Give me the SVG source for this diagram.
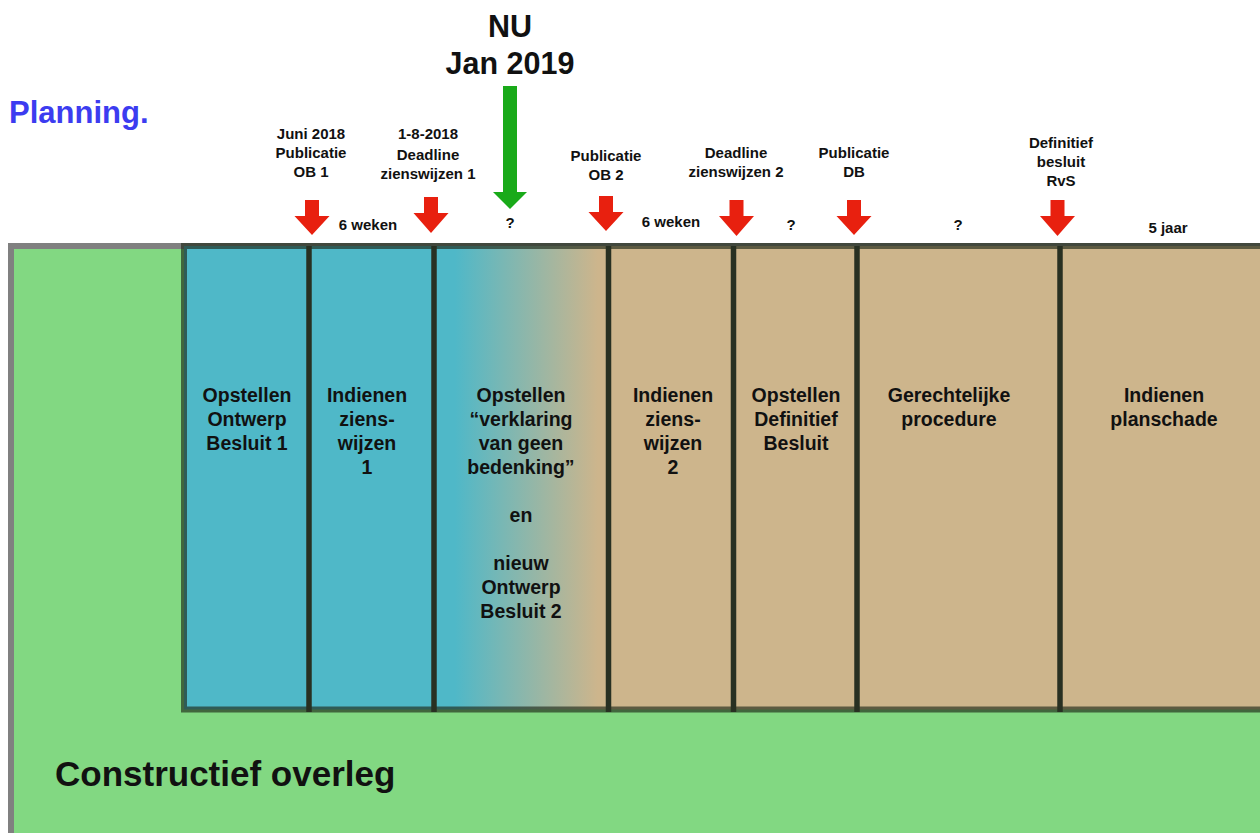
<svg xmlns="http://www.w3.org/2000/svg" width="1260" height="833" viewBox="0 0 1260 833">
<style>
  text { font-family: "Liberation Sans", Arial, Helvetica, sans-serif; font-weight: bold; fill: #111; text-anchor: middle; }
  .panel-t { font-size: 19.5px; }
  .lbl { font-size: 15px; }
  .big { font-size: 30.5px; }
  .cyan { fill: #4FB8C8; }
  .tan { fill: #CDB58C; }
  .div { stroke: #283022; stroke-width: 5.5; }
  .red { fill: #E8200F; }
</style>
<defs>
  <linearGradient id="fade" gradientUnits="userSpaceOnUse" x1="455" y1="0" x2="598" y2="0">
    <stop offset="0" stop-color="#4FB8C8"/>
    <stop offset="1" stop-color="#CDB58C"/>
  </linearGradient>
</defs>
<rect width="1260" height="833" fill="#ffffff"/>

<g id="overleg">
  <rect x="11" y="246" width="1300" height="700" fill="#82D882" stroke="#808080" stroke-width="6"/>
  <text x="55" y="786" style="font-size:35px;text-anchor:start">Constructief overleg</text>
</g>

<g id="title">
  <text x="9" y="123" style="font-size:31px;text-anchor:start;fill:#3C3CF0">Planning.</text>
</g>

<g id="p1">
  <rect class="cyan" x="184" y="246" width="125" height="463.5"/>
  <text class="panel-t" x="247" y="402">Opstellen<tspan x="247" dy="24">Ontwerp</tspan><tspan x="247" dy="24">Besluit 1</tspan></text>
</g>
<g id="p2">
  <rect class="cyan" x="309" y="246" width="125" height="463.5"/>
  <text class="panel-t" x="367" y="402">Indienen<tspan x="367" dy="24">ziens-</tspan><tspan x="367" dy="24">wijzen</tspan><tspan x="367" dy="24">1</tspan></text>
</g>
<g id="p3">
  <rect x="434" y="246" width="174.5" height="463.5" fill="url(#fade)"/>
  <text class="panel-t" x="521" y="402">Opstellen<tspan x="521" dy="24">“verklaring</tspan><tspan x="521" dy="24">van geen</tspan><tspan x="521" dy="24">bedenking”</tspan><tspan x="521" dy="48">en</tspan><tspan x="521" dy="48">nieuw</tspan><tspan x="521" dy="24">Ontwerp</tspan><tspan x="521" dy="24">Besluit 2</tspan></text>
</g>
<g id="p4">
  <rect class="tan" x="608.5" y="246" width="125" height="463.5"/>
  <text class="panel-t" x="673" y="402">Indienen<tspan x="673" dy="24">ziens-</tspan><tspan x="673" dy="24">wijzen</tspan><tspan x="673" dy="24">2</tspan></text>
</g>
<g id="p5">
  <rect class="tan" x="733.5" y="246" width="123.5" height="463.5"/>
  <text class="panel-t" x="796" y="402">Opstellen<tspan x="796" dy="24">Definitief</tspan><tspan x="796" dy="24">Besluit</tspan></text>
</g>
<g id="p6">
  <rect class="tan" x="857" y="246" width="203" height="463.5"/>
  <text class="panel-t" x="949" y="402">Gerechtelijke<tspan x="949" dy="24">procedure</tspan></text>
</g>
<g id="p7">
  <rect class="tan" x="1060" y="246" width="240" height="463.5"/>
  <text class="panel-t" x="1164" y="402">Indienen<tspan x="1164" dy="24">planschade</tspan></text>
</g>

<g id="frame">
  <rect x="184" y="246" width="1120" height="463.5" fill="none" stroke="#1e2a18" stroke-opacity="0.65" stroke-width="6"/>
  <line class="div" x1="309" y1="246" x2="309" y2="712"/>
  <line class="div" x1="434" y1="246" x2="434" y2="712"/>
  <line class="div" x1="608.5" y1="246" x2="608.5" y2="712"/>
  <line class="div" x1="733.5" y1="246" x2="733.5" y2="712"/>
  <line class="div" x1="857" y1="246" x2="857" y2="712"/>
  <line class="div" x1="1060" y1="246" x2="1060" y2="712"/>
</g>

<g id="nu">
  <text class="big" x="510" y="37">NU</text>
  <text class="big" x="510" y="74">Jan 2019</text>
</g>

<g id="m1"><text class="lbl" x="311" y="139">Juni 2018<tspan x="311" dy="19">Publicatie</tspan><tspan x="311" dy="19">OB 1</tspan></text></g>
<g id="m2"><text class="lbl" x="428" y="139">1-8-2018<tspan x="428" dy="21">Deadline</tspan><tspan x="428" dy="19">zienswijzen 1</tspan></text></g>
<g id="m3"><text class="lbl" x="606" y="161">Publicatie<tspan x="606" dy="19">OB 2</tspan></text></g>
<g id="m4"><text class="lbl" x="736" y="158">Deadline<tspan x="736" dy="19">zienswijzen 2</tspan></text></g>
<g id="m5"><text class="lbl" x="854" y="158">Publicatie<tspan x="854" dy="19">DB</tspan></text></g>
<g id="m6"><text class="lbl" x="1061" y="148">Definitief<tspan x="1061" dy="19">besluit</tspan><tspan x="1061" dy="19">RvS</tspan></text></g>

<g id="durations">
  <text class="lbl" x="368" y="230">6 weken</text>
  <text class="lbl" x="510" y="228">?</text>
  <text class="lbl" x="671" y="227">6 weken</text>
  <text class="lbl" x="791" y="230">?</text>
  <text class="lbl" x="958" y="230">?</text>
  <text class="lbl" x="1168" y="233">5 jaar</text>
</g>

<g id="connectors">
  <polygon fill="#19AA19" points="503,86 517,86 517,192 527,192 510,209 493,192 503,192"/>
  <polygon class="red" points="305,200 319,200 319,216 329.5,216 312,235 294.5,216 305,216"/>
  <polygon class="red" points="424,197 438,197 438,213 448.5,213 431,233 413.5,213 424,213"/>
  <polygon class="red" points="599,196 613,196 613,212 623.5,212 606,231 588.5,212 599,212"/>
  <polygon class="red" points="729.5,200 743.5,200 743.5,216 754,216 736.5,236 719,216 729.5,216"/>
  <polygon class="red" points="847,200 861,200 861,216 871.5,216 854,235 836.5,216 847,216"/>
  <polygon class="red" points="1050.5,200 1064.5,200 1064.5,216 1075,216 1057.5,236 1040,216 1050.5,216"/>
</g>
</svg>
